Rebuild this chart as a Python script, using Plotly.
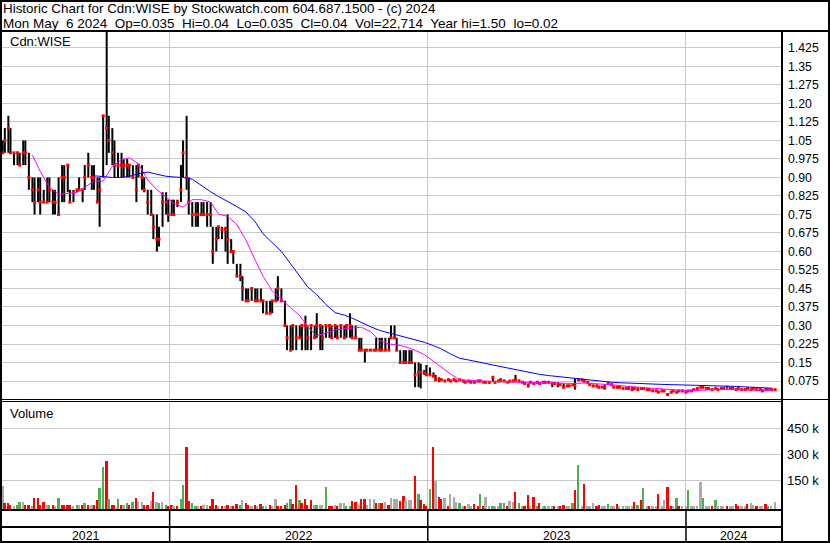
import pandas as pd
import plotly.graph_objects as go

W, H = 830, 543

# ---------------- data ----------------
dates = pd.bdate_range("2021-05-10", "2024-05-06", freq="3B")   # one bar every 3 sessions

high = [
    1.05, 1.10, 1.15, 1.10, 1.00, 1.00, 1.00, 1.05, 1.05, 1.00,
    0.90, 0.90, 0.90, 0.90, 0.85, 0.90, 0.90, 0.85, 0.85, 0.90,
    0.95, 0.95, 0.95, 0.85, 0.85, 0.85, 0.90, 0.85, 0.95, 1.00,
    0.95, 0.95, 0.90, 0.90, 1.15, 1.50, 1.15, 1.10, 1.05, 1.00,
    1.00, 0.975, 0.975, 0.95, 0.95, 0.95, 0.95, 0.95, 0.90, 0.85,
    0.85, 0.75, 0.75, 0.70, 0.84, 0.84, 0.81, 0.81, 0.81, 0.81,
    0.95, 1.05, 1.15, 0.90, 0.80, 0.80, 0.80, 0.80, 0.80, 0.80,
    0.80, 0.70, 0.70, 0.70, 0.70, 0.70, 0.75, 0.65, 0.60, 0.55,
    0.55, 0.50, 0.45, 0.45, 0.45, 0.45, 0.45, 0.45, 0.40, 0.40,
    0.40, 0.40, 0.45, 0.50, 0.45, 0.40, 0.30, 0.30, 0.30, 0.30,
    0.30, 0.30, 0.34, 0.30, 0.30, 0.30, 0.35, 0.30, 0.30, 0.30,
    0.30, 0.30, 0.30, 0.30, 0.30, 0.30, 0.30, 0.35, 0.30, 0.30,
    0.25, 0.25, 0.20, 0.20, 0.20, 0.20, 0.25, 0.25, 0.25, 0.25,
    0.25, 0.30, 0.30, 0.25, 0.20, 0.20, 0.20, 0.20, 0.20, 0.15,
    0.15, 0.145, 0.12, 0.14, 0.13, 0.11, 0.10, 0.09, 0.085, 0.08,
    0.085, 0.08, 0.085, 0.08, 0.08, 0.075, 0.075, 0.075, 0.075, 0.075,
    0.075, 0.08, 0.075, 0.075, 0.07, 0.09, 0.075, 0.08, 0.085, 0.08,
    0.075, 0.075, 0.08, 0.10, 0.08, 0.075, 0.07, 0.065, 0.07, 0.07,
    0.07, 0.07, 0.07, 0.07, 0.07, 0.07, 0.07, 0.07, 0.065, 0.065,
    0.06, 0.06, 0.06, 0.085, 0.085, 0.08, 0.08, 0.07, 0.065, 0.06,
    0.06, 0.055, 0.055, 0.06, 0.07, 0.065, 0.055, 0.055, 0.05, 0.05,
    0.05, 0.055, 0.05, 0.05, 0.05, 0.05, 0.045, 0.045, 0.045, 0.04,
    0.035, 0.035, 0.035, 0.035, 0.025, 0.035, 0.035, 0.035, 0.035, 0.035,
    0.035, 0.035, 0.035, 0.04, 0.05, 0.055, 0.05, 0.05, 0.045, 0.045,
    0.045, 0.045, 0.045, 0.05, 0.05, 0.05, 0.05, 0.045, 0.045, 0.045,
    0.045, 0.045, 0.045, 0.045, 0.045, 0.045, 0.04, 0.04, 0.04, 0.04, 0.04,
]

low = [
    1.00, 1.00, 1.00, 1.00, 0.95, 0.95, 0.95, 0.95, 0.95, 0.85,
    0.80, 0.75, 0.80, 0.75, 0.80, 0.80, 0.80, 0.75, 0.75, 0.75,
    0.80, 0.80, 0.84, 0.80, 0.80, 0.84, 0.85, 0.80, 0.85, 0.90,
    0.85, 0.85, 0.80, 0.70, 0.90, 0.95, 1.00, 0.95, 0.90, 0.90,
    0.90, 0.90, 0.90, 0.90, 0.90, 0.80, 0.90, 0.85, 0.84, 0.75,
    0.75, 0.65, 0.60, 0.62, 0.70, 0.75, 0.72, 0.75, 0.75, 0.78,
    0.80, 0.90, 0.85, 0.75, 0.70, 0.70, 0.70, 0.75, 0.75, 0.70,
    0.70, 0.55, 0.60, 0.65, 0.65, 0.60, 0.55, 0.60, 0.55, 0.50,
    0.48, 0.40, 0.40, 0.40, 0.40, 0.40, 0.40, 0.40, 0.35, 0.35,
    0.35, 0.35, 0.40, 0.40, 0.40, 0.30, 0.20, 0.20, 0.20, 0.20,
    0.25, 0.20, 0.20, 0.20, 0.20, 0.25, 0.25, 0.20, 0.20, 0.25,
    0.25, 0.25, 0.25, 0.25, 0.25, 0.25, 0.25, 0.25, 0.25, 0.25,
    0.20, 0.20, 0.15, 0.20, 0.20, 0.20, 0.20, 0.20, 0.20, 0.20,
    0.20, 0.25, 0.25, 0.20, 0.15, 0.15, 0.15, 0.15, 0.15, 0.05,
    0.05, 0.045, 0.10, 0.10, 0.095, 0.09, 0.075, 0.07, 0.075, 0.075,
    0.075, 0.075, 0.075, 0.075, 0.075, 0.07, 0.07, 0.07, 0.07, 0.07,
    0.07, 0.07, 0.07, 0.07, 0.065, 0.07, 0.065, 0.07, 0.07, 0.07,
    0.07, 0.07, 0.07, 0.075, 0.07, 0.07, 0.06, 0.05, 0.065, 0.06,
    0.065, 0.065, 0.065, 0.065, 0.065, 0.05, 0.065, 0.05, 0.06, 0.045,
    0.055, 0.055, 0.055, 0.04, 0.075, 0.075, 0.07, 0.065, 0.055, 0.055,
    0.05, 0.045, 0.05, 0.04, 0.06, 0.055, 0.05, 0.045, 0.045, 0.045,
    0.045, 0.04, 0.035, 0.04, 0.04, 0.04, 0.04, 0.04, 0.04, 0.035,
    0.03, 0.03, 0.03, 0.03, 0.02, 0.025, 0.03, 0.025, 0.03, 0.03,
    0.03, 0.03, 0.03, 0.035, 0.04, 0.045, 0.045, 0.045, 0.04, 0.04,
    0.04, 0.04, 0.04, 0.045, 0.045, 0.04, 0.045, 0.04, 0.04, 0.04,
    0.035, 0.04, 0.04, 0.04, 0.04, 0.04, 0.03, 0.035, 0.035, 0.035, 0.035,
]

close = [
    1.00, 1.05, 1.10, 1.00, 1.00, 1.00, 0.95, 1.00, 1.00, 0.90,
    0.85, 0.80, 0.85, 0.80, 0.80, 0.80, 0.85, 0.80, 0.80, 0.75,
    0.90, 0.90, 0.95, 0.80, 0.84, 0.85, 0.85, 0.85, 0.90, 0.95,
    0.90, 0.90, 0.80, 0.85, 1.15, 1.10, 1.05, 1.00, 0.95, 0.95,
    0.95, 0.95, 0.95, 0.95, 0.90, 0.85, 0.95, 0.90, 0.85, 0.80,
    0.75, 0.70, 0.65, 0.65, 0.80, 0.80, 0.75, 0.75, 0.75, 0.80,
    0.85, 1.00, 0.90, 0.80, 0.75, 0.75, 0.75, 0.75, 0.75, 0.75,
    0.75, 0.60, 0.65, 0.70, 0.69, 0.69, 0.65, 0.60, 0.60, 0.50,
    0.50, 0.45, 0.40, 0.40, 0.45, 0.40, 0.40, 0.40, 0.40, 0.35,
    0.35, 0.40, 0.40, 0.45, 0.40, 0.30, 0.25, 0.20, 0.30, 0.25,
    0.25, 0.30, 0.30, 0.25, 0.30, 0.25, 0.30, 0.30, 0.25, 0.30,
    0.30, 0.25, 0.30, 0.25, 0.30, 0.25, 0.30, 0.30, 0.25, 0.25,
    0.20, 0.20, 0.20, 0.20, 0.20, 0.20, 0.20, 0.20, 0.20, 0.20,
    0.20, 0.25, 0.25, 0.20, 0.15, 0.15, 0.15, 0.15, 0.15, 0.10,
    0.11, 0.11, 0.11, 0.10, 0.10, 0.095, 0.08, 0.08, 0.08, 0.075,
    0.08, 0.075, 0.08, 0.075, 0.08, 0.075, 0.07, 0.075, 0.07, 0.07,
    0.075, 0.075, 0.07, 0.07, 0.07, 0.09, 0.07, 0.075, 0.08, 0.075,
    0.07, 0.075, 0.075, 0.08, 0.075, 0.07, 0.065, 0.055, 0.07, 0.065,
    0.07, 0.065, 0.07, 0.07, 0.07, 0.065, 0.065, 0.06, 0.06, 0.05,
    0.055, 0.055, 0.06, 0.055, 0.08, 0.08, 0.075, 0.07, 0.06, 0.055,
    0.055, 0.05, 0.05, 0.05, 0.065, 0.06, 0.05, 0.05, 0.05, 0.045,
    0.045, 0.045, 0.04, 0.045, 0.04, 0.045, 0.045, 0.04, 0.04, 0.035,
    0.035, 0.03, 0.035, 0.035, 0.02, 0.03, 0.035, 0.03, 0.035, 0.035,
    0.03, 0.035, 0.035, 0.04, 0.045, 0.05, 0.05, 0.045, 0.045, 0.04,
    0.045, 0.04, 0.045, 0.045, 0.05, 0.045, 0.045, 0.04, 0.045, 0.04,
    0.04, 0.045, 0.04, 0.045, 0.04, 0.04, 0.035, 0.04, 0.04, 0.04, 0.04,
]

volume_k = [
    117, 17, 17, 5, 3, 8, 23, 23, 5, 8,
    3, 50, 50, 8, 27, 5, 8, 5, 3, 50,
    8, 8, 8, 5, 3, 5, 8, 5, 21, 8,
    5, 8, 36, 107, 228, 261, 42, 8, 5, 42,
    5, 8, 17, 8, 27, 46, 27, 27, 8, 5,
    31, 84, 27, 17, 27, 5, 3, 7, 2, 3,
    42, 123, 344, 31, 17, 4, 3, 3, 8, 8,
    3, 42, 5, 2, 3, 2, 5, 3, 3, 13,
    7, 36, 21, 5, 3, 5, 2, 13, 3, 2,
    5, 3, 42, 2, 2, 8, 17, 42, 13, 123,
    36, 17, 42, 8, 36, 5, 5, 8, 8, 110,
    2, 2, 5, 3, 17, 17, 3, 2, 31, 27,
    8, 42, 42, 8, 40, 40, 17, 17, 17, 27,
    5, 46, 40, 42, 31, 59, 33, 36, 36, 175,
    71, 36, 13, 3, 100, 344, 146, 56, 42, 46,
    2, 71, 56, 27, 17, 2, 2, 13, 2, 13,
    1, 69, 1, 56, 2, 1, 1, 2, 17, 17,
    1, 31, 27, 81, 17, 1, 2, 65, 1, 52,
    1, 21, 1, 1, 1, 1, 1, 1, 1, 8,
    1, 1, 17, 94, 238, 2, 129, 1, 1, 17,
    2, 8, 1, 2, 13, 1, 1, 13, 1, 1,
    1, 2, 2, 27, 8, 36, 104, 1, 1, 1,
    1, 69, 1, 36, 113, 1, 1, 50, 2, 1,
    1, 94, 1, 1, 1, 140, 50, 1, 1, 1,
    36, 1, 1, 1, 1, 2, 1, 13, 1, 1,
    1, 13, 17, 7, 1, 1, 1, 13, 2, 1, 22.714,
]

# day direction: u = up, d = down, n = unchanged
volume_direction = (
    "ndddnuundd" "nddddnudnu" "ddddnundud" "ndduududdu" "dnududnndd"
    "ndnunuddnd" "uudduundnn" "dddndndndd" "unddndndun" "dnnddduudd"
    "uddddnunnu" "ddndnnuudd" "nddnnndudn" "dnnnddnnnd" "udddudnddn"
    "dnnnundnnd" "dudnnunnuu" "dnndunddnd" "udnunndndd" "nnudundnnn"
    "ddnnunndnn" "nnndudundn" "ndnnddnudn" "nunnnnunnd" "unnndnnddn"
    "ndnndnndunn"
)

# moving averages, one reading every third bar
ma_short_start = 10
ma_short = [
    0.99, 0.925, 0.86, 0.832, 0.835, 0.84, 0.86, 0.885, 0.885, 0.945,
    0.972, 0.98, 0.955, 0.89, 0.85, 0.82, 0.795, 0.78, 0.81, 0.81,
    0.80, 0.752, 0.742, 0.71, 0.645, 0.565, 0.50, 0.44, 0.405, 0.372,
    0.34, 0.295, 0.258, 0.27, 0.282, 0.287, 0.29, 0.293, 0.275, 0.24,
    0.225, 0.222, 0.213, 0.20, 0.182, 0.155, 0.13, 0.104, 0.08, 0.077,
    0.075, 0.074, 0.073, 0.072, 0.072, 0.071, 0.07, 0.07, 0.069, 0.068,
    0.066, 0.065, 0.067, 0.066, 0.062, 0.06, 0.056, 0.053, 0.05, 0.047,
    0.045, 0.042, 0.039, 0.037, 0.036, 0.036, 0.039, 0.041, 0.041, 0.041,
    0.04, 0.039, 0.038, 0.037,
]
ma_long_start = 31
ma_long = [
    0.907, 0.902, 0.90, 0.90, 0.905, 0.915, 0.922, 0.913, 0.905, 0.902,
    0.90, 0.893, 0.866, 0.842, 0.823, 0.804, 0.782, 0.76, 0.72, 0.672,
    0.636, 0.60, 0.55, 0.50, 0.457, 0.425, 0.385, 0.352, 0.342, 0.33,
    0.312, 0.295, 0.28, 0.27, 0.261, 0.252, 0.242, 0.232, 0.218, 0.205,
    0.185, 0.167, 0.16, 0.154, 0.146, 0.138, 0.13, 0.123, 0.115, 0.107,
    0.102, 0.097, 0.093, 0.089, 0.085, 0.081, 0.077, 0.072, 0.07, 0.068,
    0.066, 0.065, 0.064, 0.062, 0.061, 0.06, 0.059, 0.059, 0.059, 0.057,
    0.055, 0.054, 0.053, 0.051, 0.049, 0.047, 0.046,
]

price_tick_labels = ["0.075", "0.15", "0.225", "0.30", "0.375", "0.45", "0.525", "0.60",
                     "0.675", "0.75", "0.825", "0.90", "0.975", "1.05", "1.125", "1.20",
                     "1.275", "1.35", "1.425"]
volume_tick_values = [150000, 300000, 450000]
volume_tick_labels = ["150 k", "300 k", "450 k"]
years = ["2021", "2022", "2023", "2024"]

header_1 = "Historic Chart for Cdn:WISE by Stockwatch.com 604.687.1500 - (c) 2024"
header_2 = "Mon May  6 2024  Op=0.035  Hi=0.04  Lo=0.035  Cl=0.04  Vol=22,714  Year hi=1.50  lo=0.02"
symbol_label = "Cdn:WISE"
volume_label = "Volume"

# ---------------- figure ----------------
n = len(dates)
assert len(high) == n and len(low) == n and len(close) == n
assert len(volume_k) == n and len(volume_direction) == n

FONT = "Liberation Sans, Arial, sans-serif"
X0 = pd.Timestamp("2021-05-09")
X1 = pd.Timestamp("2024-05-15 18:00")
VMIN, VMAX = -15600, 601700
GRID = "#c8c8c8"
DAY_MS = 86400000


def px(x):
    return x / W


def py(y):
    return 1 - y / H


fig = go.Figure()

# high-low bars
bx, by = [], []
for d, h, l in zip(dates, high, low):
    bx += [d, d, None]
    by += [l, h, None]
fig.add_trace(go.Scatter(x=bx, y=by, mode="lines", line=dict(color="black", width=2),
                         hoverinfo="skip", xaxis="x", yaxis="y"))
# closing ticks
fig.add_trace(go.Scatter(x=dates, y=close, mode="markers",
                         marker=dict(symbol="square", size=3, color="#ff0000", line=dict(width=0)),
                         xaxis="x", yaxis="y"))
# moving averages
fig.add_trace(go.Scatter(x=dates[ma_short_start::3][:len(ma_short)], y=ma_short, mode="lines",
                         line=dict(color="#ff00ff", width=1), xaxis="x", yaxis="y"))
fig.add_trace(go.Scatter(x=dates[ma_long_start::3][:len(ma_long)], y=ma_long, mode="lines",
                         line=dict(color="#0000ff", width=1), xaxis="x", yaxis="y"))

# volume
colour_of = {"u": "#4caf50", "d": "#ff0000", "n": "#aaaaaa"}
vols = [v * 1000 for v in volume_k]
fig.add_trace(go.Bar(x=dates, y=[v - VMIN for v in vols], base=VMIN,
                     marker=dict(color=[colour_of[c] for c in volume_direction], line=dict(width=0)),
                     width=2.6 * DAY_MS, xaxis="x2", yaxis="y2"))

year_starts = [f"{y}-01-01" for y in years[1:]]
xdom = [px(2), px(782)]

fig.update_layout(
    width=W, height=H, margin=dict(l=0, r=0, t=0, b=0),
    paper_bgcolor="white", plot_bgcolor="white", showlegend=False,
    bargap=0,
    xaxis=dict(domain=xdom, range=[X0, X1], anchor="y", tickvals=year_starts,
               showticklabels=False, ticks="", showgrid=True, gridcolor=GRID, gridwidth=1,
               zeroline=False, showline=False),
    yaxis=dict(domain=[py(400), py(31)], range=[-0.002, 1.4937], anchor="x", side="right",
               tickvals=[float(s) for s in price_tick_labels], ticktext=price_tick_labels,
               ticks="", ticklabelstandoff=5, showgrid=True, gridcolor=GRID, gridwidth=1,
               zeroline=False, showline=False,
               tickfont=dict(family=FONT, size=12.3, color="black")),
    xaxis2=dict(domain=xdom, range=[X0, X1], anchor="y2", tickvals=year_starts,
                showticklabels=False, ticks="", showgrid=True, gridcolor=GRID, gridwidth=1,
                zeroline=False, showline=False),
    yaxis2=dict(domain=[py(509), py(402)], range=[VMIN, VMAX], anchor="x2", side="right",
                tickvals=volume_tick_values, ticktext=volume_tick_labels, ticks="",
                ticklabelstandoff=4, showgrid=True, gridcolor=GRID, gridwidth=1,
                zeroline=False, showline=False,
                tickfont=dict(family=FONT, size=13, color="black")),
)

nb = lambda s: s.replace("  ", "\u00a0 ")
ann = [
    dict(text=nb(header_1), x=px(1), y=py(8.6), size=13.4),
    dict(text=nb(header_2), x=px(1), y=py(23), size=13.5),
    dict(text=symbol_label, x=px(8), y=py(41.2), size=13),
    dict(text=volume_label, x=px(8), y=py(413.8), size=13),
]
for a in ann:
    fig.add_annotation(text=a["text"], x=a["x"], y=a["y"], xref="paper", yref="paper",
                       xanchor="left", yanchor="middle", showarrow=False,
                       font=dict(family=FONT, size=a["size"], color="black"))

# year labels centred in the visible part of each year
bounds = [X0] + [pd.Timestamp(s) for s in year_starts] + [X1]
for i, y in enumerate(years):
    mid = bounds[i] + (bounds[i + 1] - bounds[i]) / 2
    fig.add_annotation(text=y, x=mid, y=py(535.8), xref="x", yref="paper",
                       xanchor="center", yanchor="middle", showarrow=False,
                       font=dict(family=FONT, size=12.3, color="black"))

shapes = []


def line(x0, y0, x1, y1, w=2):
    shapes.append(dict(type="line", xref="paper", yref="paper",
                       x0=px(x0), y0=py(y0), x1=px(x1), y1=py(y1),
                       line=dict(color="black", width=w)))


shapes.append(dict(type="rect", xref="paper", yref="paper", x0=px(1), y0=py(1), x1=px(829),
                   y1=py(542), line=dict(color="black", width=2)))
line(0, 31, W, 31)
line(782, 31, 782, 543)
line(0, 399.5, W, 399.5, 1)
line(0, 401.5, 782, 401.5, 1)
line(0, 510, 782, 510)
line(0, 527, 782, 527)
for s in year_starts:
    shapes.append(dict(type="line", xref="x", yref="paper", x0=s, x1=s,
                       y0=py(510), y1=py(542), line=dict(color="black", width=1.5)))
fig.update_layout(shapes=shapes)

fig.write_html(
    "out.html",
    config={"displayModeBar": False},
    post_script="document.body.style.margin='0px';document.body.style.padding='0px';"
                "document.body.style.overflow='hidden';",
)
